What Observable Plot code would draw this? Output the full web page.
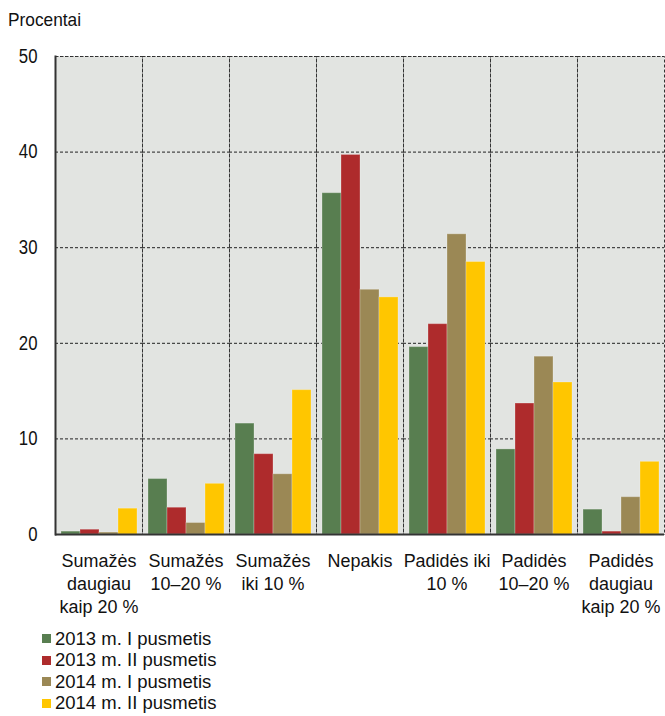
<!DOCTYPE html>
<html>
<head>
<meta charset="utf-8">
<script src="https://cdn.jsdelivr.net/npm/d3@7"></script>
<script src="https://cdn.jsdelivr.net/npm/@observablehq/plot@0.6"></script>
<style>
  body { margin: 0; background: #fff; font-family: "Liberation Sans", Arial, sans-serif; }
  #wrap { position: relative; width: 665px; }
  #title { height: 36px; font-size: 19px; padding-left: 8px; line-height: 40px; color: #111; }
  #title span { display: inline-block; transform: scaleX(0.91); transform-origin: left center; }
  #legend { margin-top: 6px; padding-left: 42px; font-size: 18.5px; color: #111; }
  .item { display: flex; align-items: center; height: 21.5px; }
  .sw { width: 9px; height: 9px; margin-right: 4px; }
</style>
</head>
<body>
<div id="wrap">
  <div id="title"><span>Procentai</span></div>
  <div id="chart"></div>
  <div id="legend"></div>
</div>
<script>
const categories = ["Sumažės\ndaugiau\nkaip 20 %", "Sumažės\n10–20 %", "Sumažės\niki 10 %", "Nepakis", "Padidės iki\n10 %", "Padidės\n10–20 %", "Padidės\ndaugiau\nkaip 20 %"];
const seriesNames = ["2013 m. I pusmetis", "2013 m. II pusmetis", "2014 m. I pusmetis", "2014 m. II pusmetis"];
const h2013I  = [0.3, 5.8, 11.6, 35.7, 19.6, 8.9, 2.6];
const h2013II = [0.5, 2.8, 8.4, 39.7, 22.0, 13.7, 0.3];
const h2014I  = [0.2, 1.2, 6.3, 25.6, 31.4, 18.6, 3.9];
const h2014II = [2.7, 5.3, 15.1, 24.8, 28.5, 15.9, 7.6];
const seriesColors = ["#587e50", "#ae2b2c", "#9b8855", "#ffc600"];
const yTicks = [0, 10, 20, 30, 40, 50];

const seriesValues = [h2013I, h2013II, h2014I, h2014II];
const data = [];
categories.forEach((c, i) => seriesNames.forEach((s, j) => data.push({cat: c, series: s, value: seriesValues[j][i]})));

const font = '"Liberation Sans", Arial, sans-serif';

const chart = Plot.plot({
  width: 665,
  height: 586,
  marginLeft: 54,
  marginRight: 0,
  marginTop: 20,
  marginBottom: 88,
  style: {fontFamily: font, fontSize: "18px", color: "#111", background: "#fff"},
  fx: {domain: categories, padding: 0, label: null},
  x: {domain: seriesNames, paddingInner: 0, paddingOuter: 0.27, axis: null},
  y: {domain: [0, 50], label: null},
  color: {domain: seriesNames, range: seriesColors},
  marks: [
    Plot.frame({fill: "#e2e4e1", stroke: "none"}),
    Plot.gridY(yTicks, {stroke: "#222", strokeOpacity: 1, strokeDasharray: "3,2", strokeWidth: 1}),
    Plot.frame({stroke: "#333", strokeDasharray: "3,2", strokeWidth: 1}),
    Plot.barY(data, {fx: "cat", x: "series", y: "value", fill: "series", stroke: "#ffffff", strokeOpacity: 0.25, strokeWidth: 1}),
    Plot.ruleY([0], {stroke: "#333", strokeWidth: 2}),
    Plot.frame({anchor: "left", facetAnchor: "left", stroke: "#333", strokeWidth: 2}),
    Plot.axisY(yTicks, {tickSize: 0, tickPadding: 18, fontSize: 19.5, label: null}),
    Plot.axisFx({anchor: "bottom", tickSize: 0, tickPadding: 16, fontSize: 18.5, lineHeight: 1.25, label: null})
  ]
});
document.getElementById("chart").appendChild(chart);

// narrow the text horizontally around its anchor point
function squeeze(selector, s) {
  chart.querySelectorAll(selector).forEach(t => {
    const tr = t.getAttribute("transform");
    if (tr) {
      t.setAttribute("transform", tr + ` scale(${s},1)`);
    } else {
      const x = +t.getAttribute("x") || 0, y = +t.getAttribute("y") || 0;
      t.setAttribute("transform", `translate(${x},${y}) scale(${s},1) translate(${-x},${-y})`);
    }
  });
}
squeeze('g[aria-label="y-axis tick label"] text', 0.86);
squeeze('g[aria-label="fx-axis tick label"] text', 0.97);

const legend = document.getElementById("legend");
seriesNames.forEach((s, j) => {
  const row = document.createElement("div");
  row.className = "item";
  const sw = document.createElement("span");
  sw.className = "sw";
  sw.style.background = seriesColors[j];
  const t = document.createElement("span");
  t.textContent = s;
  row.appendChild(sw);
  row.appendChild(t);
  legend.appendChild(row);
});
</script>
</body>
</html>
